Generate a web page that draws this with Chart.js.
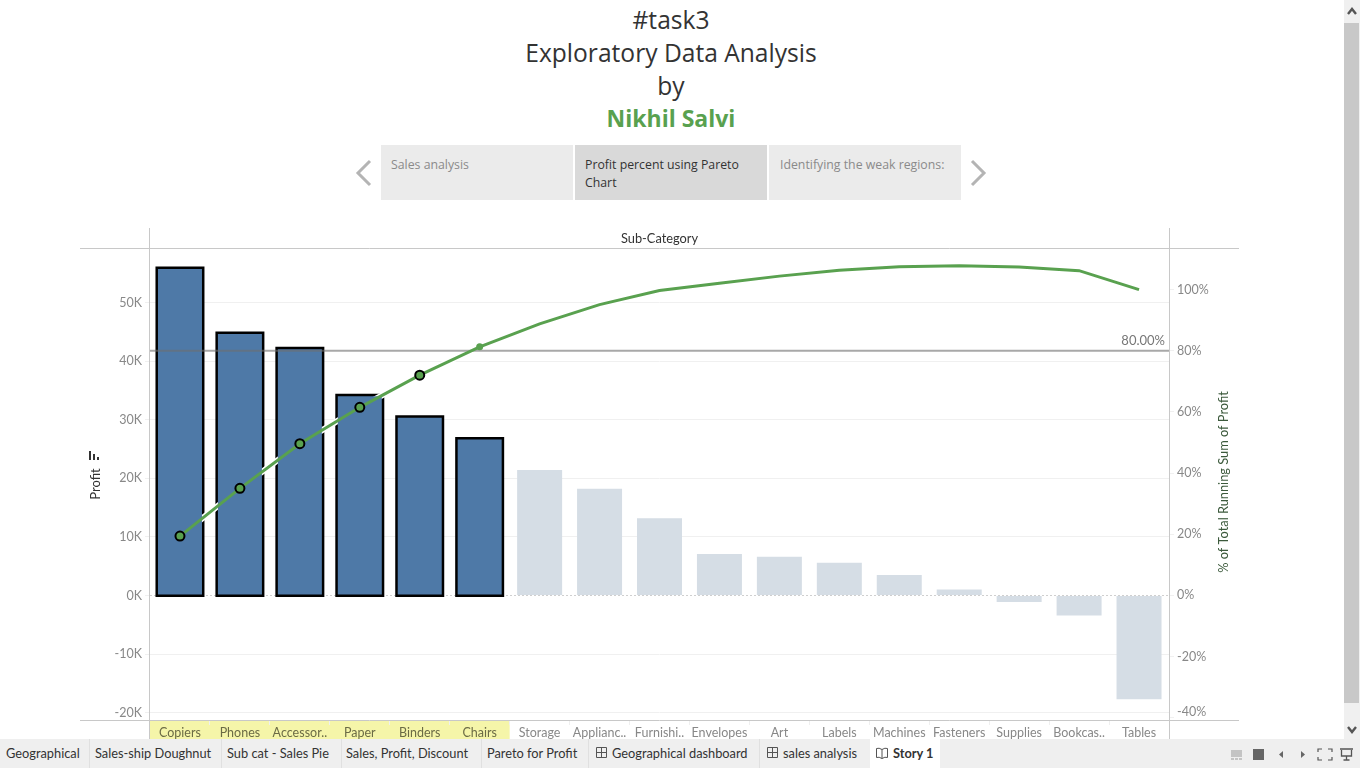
<!DOCTYPE html>
<html><head><meta charset="utf-8">
<script src="https://cdn.jsdelivr.net/npm/chart.js@4"></script>
<style>
html,body{margin:0;padding:0;width:1360px;height:768px;overflow:hidden;background:#fff;font-family:Lato,sans-serif}
.abs{position:absolute}
.t{position:absolute;left:0;width:1342px;text-align:center;font-family:"Open Sans",sans-serif;font-size:24.600px;line-height:33px;color:#333;white-space:nowrap}
.nav{position:absolute;top:145px;width:192px;height:55px;background:#ebebeb;color:#8a8a8a;font-family:"Open Sans",sans-serif;font-size:12.300px;line-height:18px;box-sizing:border-box;padding:11px 10px;}
#tb{position:absolute;left:0;top:739px;width:1360px;height:29px;background:#efefef;z-index:5}
.tab{position:absolute;top:0;height:29px;line-height:28px;font-size:12.800px;color:#333;white-space:nowrap}
.sep{position:absolute;top:0;width:1px;height:29px;background:#e0e0e0}
canvas{display:block}
#wrap{position:absolute;left:80px;top:228px;width:1159px;height:512px}
</style></head><body>
<div class="t" style="top:3px">#task3</div>
<div class="t" style="top:36px">Exploratory Data Analysis</div>
<div class="t" style="top:69px">by</div>
<div class="t" style="top:102px;color:#59a14f;font-weight:700;font-size:23px">Nikhil Salvi</div>
<div class="nav" style="left:381px">Sales analysis</div>
<div class="nav" style="left:575px;background:#d9d9d9;color:#333">Profit percent using Pareto Chart</div>
<div class="nav" style="left:769px;padding-left:11px">Identifying the weak regions:</div>
<svg class="abs" style="left:352px;top:158px" width="24" height="30"><path d="M18 3 L6 15 L18 27" fill="none" stroke="#b4b4b4" stroke-width="3"/></svg>
<svg class="abs" style="left:966px;top:158px" width="24" height="30"><path d="M6 3 L18 15 L6 27" fill="none" stroke="#b4b4b4" stroke-width="3"/></svg>
<div id="wrap"><canvas id="c" width="1159" height="512"></canvas></div>
<svg class="abs" style="left:89px;top:451px" width="11" height="10"><rect x="0" y="0" width="2" height="9" fill="#333"/><rect x="4" y="3" width="2" height="6" fill="#333"/><rect x="8" y="6" width="2" height="3" fill="#333"/></svg>
<div class="abs" style="left:1344px;top:0;width:16px;height:739px;background:#f0f0f0"></div>
<div class="abs" style="left:1344px;top:23px;width:15px;height:680px;background:#c8c8c8"></div>
<svg class="abs" style="left:1344px;top:0" width="16" height="739"><path d="M4 14 L8 9 L12 14" fill="none" stroke="#555" stroke-width="2.400"/><path d="M4 727 L8 732 L12 727" fill="none" stroke="#555" stroke-width="2.400"/></svg>
<div id="tb">
<div class="abs" style="left:870px;top:0;width:70px;height:29px;background:#fff"></div>
<div class="tab" style="left:6px">Geographical</div><div class="sep" style="left:89px"></div>
<div class="tab" style="left:95px">Sales-ship Doughnut</div><div class="sep" style="left:221px"></div>
<div class="tab" style="left:227px">Sub cat - Sales Pie</div><div class="sep" style="left:341px"></div>
<div class="tab" style="left:346px">Sales, Profit, Discount</div><div class="sep" style="left:481px"></div>
<div class="tab" style="left:487px">Pareto for Profit</div><div class="sep" style="left:588px"></div>
<svg class="abs" style="left:596px;top:8px" width="12" height="12"><path d="M.5 .5H10.500V10.500H.5ZM5.500 .5V10.500M.5 5.500H10.500" fill="none" stroke="#555"/></svg>
<div class="tab" style="left:612px">Geographical dashboard</div><div class="sep" style="left:759px"></div>
<svg class="abs" style="left:767px;top:8px" width="12" height="12"><path d="M.5 .5H10.500V10.500H.5ZM5.500 .5V10.500M.5 5.500H10.500" fill="none" stroke="#555"/></svg>
<div class="tab" style="left:783px">sales analysis</div>
<svg class="abs" style="left:876px;top:8px" width="12" height="13"><path d="M6 2.500Q3 .5 .5 1.500V10.500Q3 9.500 6 11.500Q9 9.500 11.500 10.500V1.500Q9 .5 6 2.500V11.500" fill="none" stroke="#555"/></svg>
<div class="tab" style="left:893px;font-weight:700">Story 1</div>
<svg class="abs" style="left:1225px;top:0" width="135" height="29"><rect x="6" y="11" width="11" height="7" fill="#c4c4c4"/><rect x="6" y="19" width="3" height="2" fill="#c4c4c4"/><rect x="10" y="19" width="3" height="2" fill="#c4c4c4"/><rect x="14" y="19" width="3" height="2" fill="#c4c4c4"/><rect x="28" y="10" width="11" height="11" fill="#666"/><path d="M58 12V19L54 15.500Z" fill="#666"/><path d="M76 12V19L80 15.500Z" fill="#666"/><path d="M93 13V10H97M103 10H107V13M107 18V21H103M97 21H93V18" fill="none" stroke="#555" stroke-width="1.200"/><path d="M115 10H128M116.500 11V17H126.500V11M121.500 17V21M118.500 21H124.500" fill="none" stroke="#555" stroke-width="1.300"/></svg>
</div>
<script>
const categories=["Copiers","Phones","Accessor..","Paper","Binders","Chairs","Storage","Applianc..","Furnishi..","Envelopes","Art","Labels","Machines","Fasteners","Supplies","Bookcas..","Tables"];
const profit=[55800,44700,42100,34100,30400,26700,21400,18200,13200,7100,6600,5600,3500,1000,-1100,-3400,-17700];
const runningPct=[19.4,35.0,49.6,61.5,72.0,81.3,88.8,95.1,99.7,102.1,104.4,106.3,107.5,107.8,107.4,106.2,100];
const profitTicks=[-20000,-10000,0,10000,20000,30000,40000,50000];
const pctTicks=[-40,-20,0,20,40,60,80,100];
const refPct=80;
const selectedCount=6;
const markerCount=5;
const BLUE="#4e79a7",PALE="#d5dde5",GREEN="#59a14f",FONT="Lato, sans-serif";
const sel=profit.map((v,i)=>i<selectedCount?v:null), rest=profit.map((v,i)=>i<selectedCount?null:v);
const frame={id:'frame',
 beforeDraw(ch){const c=ch.ctx,{left,right,top,bottom}=ch.chartArea,x=ch.scales.x,w=x.getPixelForTick(1)-x.getPixelForTick(0);
  c.save();c.fillStyle='#f5f5a9';c.fillRect(left,bottom+1,w*selectedCount,20);c.restore();},
 beforeDatasetsDraw(ch){const c=ch.ctx,{left,right,top,bottom}=ch.chartArea,y0=Math.round(ch.scales.y.getPixelForValue(0))+.5;
  c.save();c.strokeStyle='#cfcfcf';c.lineWidth=1;c.setLineDash([2,2]);c.beginPath();c.moveTo(left,y0);c.lineTo(right,y0);c.stroke();c.restore();},
 beforeDatasetDraw(ch,a){if(a.index!==4)return;const c=ch.ctx,{left,right}=ch.chartArea,y=ch.scales.y2.getPixelForValue(refPct);
  c.save();c.strokeStyle='rgba(110,110,110,.6)';c.lineWidth=2;c.beginPath();c.moveTo(left,y);c.lineTo(right,y);c.stroke();
  c.fillStyle='#777';c.font='13px '+FONT;c.textAlign='right';c.textBaseline='bottom';c.fillText(refPct.toFixed(2)+'%',right-4,y-3);c.restore();},
 afterDraw(ch){const c=ch.ctx,{left,right,top,bottom}=ch.chartArea,W=ch.width,H=ch.height,y2=ch.scales.y2;
  c.save();c.strokeStyle='#c8c8c8';c.lineWidth=1;c.beginPath();
  [top,bottom].forEach(y=>{c.moveTo(0,y+.5);c.lineTo(W,y+.5)});
  c.moveTo(left-.5,0);c.lineTo(left-.5,H);c.moveTo(right+.5,0);c.lineTo(right+.5,H);c.stroke();
  c.fillStyle='#333';c.font='12.800px '+FONT;c.textAlign='center';c.textBaseline='middle';c.fillText('Sub-Category',(left+right)/2,11);
  c.fillStyle='#888';c.font='12.500px '+FONT;c.textAlign='left';c.fillText(pctTicks[0]+'%',right+8,y2.getPixelForValue(pctTicks[0])-6);
  c.translate(W-15,254);c.rotate(-Math.PI/2);c.fillStyle='#3c5a3c';c.font='12.800px '+FONT;c.textAlign='center';c.fillText('% of Total Running Sum of Profit',0,0);
  c.restore();}};
new Chart(document.getElementById('c'),{
 type:'bar',plugins:[frame],
 data:{labels:categories,datasets:[
  {label:'Profit',data:rest,backgroundColor:PALE,barThickness:45,grouped:false,order:7,inflateAmount:0,yAxisID:'y'},
  {label:'Selected outline',data:sel,backgroundColor:'#000',barThickness:45,grouped:false,order:6,inflateAmount:2,yAxisID:'y'},
  {type:'line',label:'halo',data:runningPct,borderColor:'#fff',borderWidth:6,pointRadius:0,order:5,yAxisID:'y2'},
  {label:'Selected',data:sel,backgroundColor:BLUE,barThickness:45,grouped:false,order:4,inflateAmount:-.5,yAxisID:'y'},
  {type:'line',label:'% of Total Running Sum of Profit',data:runningPct,borderColor:GREEN,borderWidth:3,tension:0,yAxisID:'y2',order:2,
   pointRadius:c=>c.dataIndex<markerCount?4.5:(c.dataIndex===markerCount?3.5:0),
   pointBackgroundColor:GREEN,
   pointBorderColor:c=>c.dataIndex<markerCount?'#000':GREEN,
   pointBorderWidth:c=>c.dataIndex<markerCount?2:0}
 ]},
 options:{responsive:false,animation:false,devicePixelRatio:1,
  layout:{padding:{top:20,left:0,right:0,bottom:0}},
  plugins:{legend:{display:false},tooltip:{enabled:false}},
  scales:{
   x:{type:'category',offset:true,border:{display:false},
     grid:{drawOnChartArea:false,tickLength:5,color:'#efefef',offset:true},
     ticks:{autoSkip:false,maxRotation:0,minRotation:0,padding:0,font:{family:FONT,size:12.5},color:c=>c.index<selectedCount?'#6b6b45':'#888'},
     afterFit(s){s.height=20}},
   y:{position:'left',min:-21250,max:59300,border:{display:false},
     afterBuildTicks(s){s.ticks=profitTicks.map(v=>({value:v}))},
     afterFit(s){s.width=70},
     grid:{color:c=>c.tick&&c.tick.value===0?'rgba(0,0,0,0)':'#f0f0f0',tickLength:5,tickColor:'#f0f0f0'},
     title:{display:true,text:'Profit',color:'#333',font:{family:FONT,size:13},padding:{top:8,bottom:0}},
     ticks:{padding:3,font:{family:FONT,size:12.5},color:'#888',callback:v=>v/1000+'K'}},
   y2:{position:'right',min:-40.75,max:113.6,border:{display:false},
     afterBuildTicks(s){s.ticks=pctTicks.map(v=>({value:v}))},
     afterFit(s){s.width=70},
     grid:{drawOnChartArea:false,tickLength:5,tickColor:'#f0f0f0'},
     ticks:{padding:3,font:{family:FONT,size:12.5},color:'#888',callback:v=>v===pctTicks[0]?'':v+'%'}}
  }}
});
</script>
</body></html>
